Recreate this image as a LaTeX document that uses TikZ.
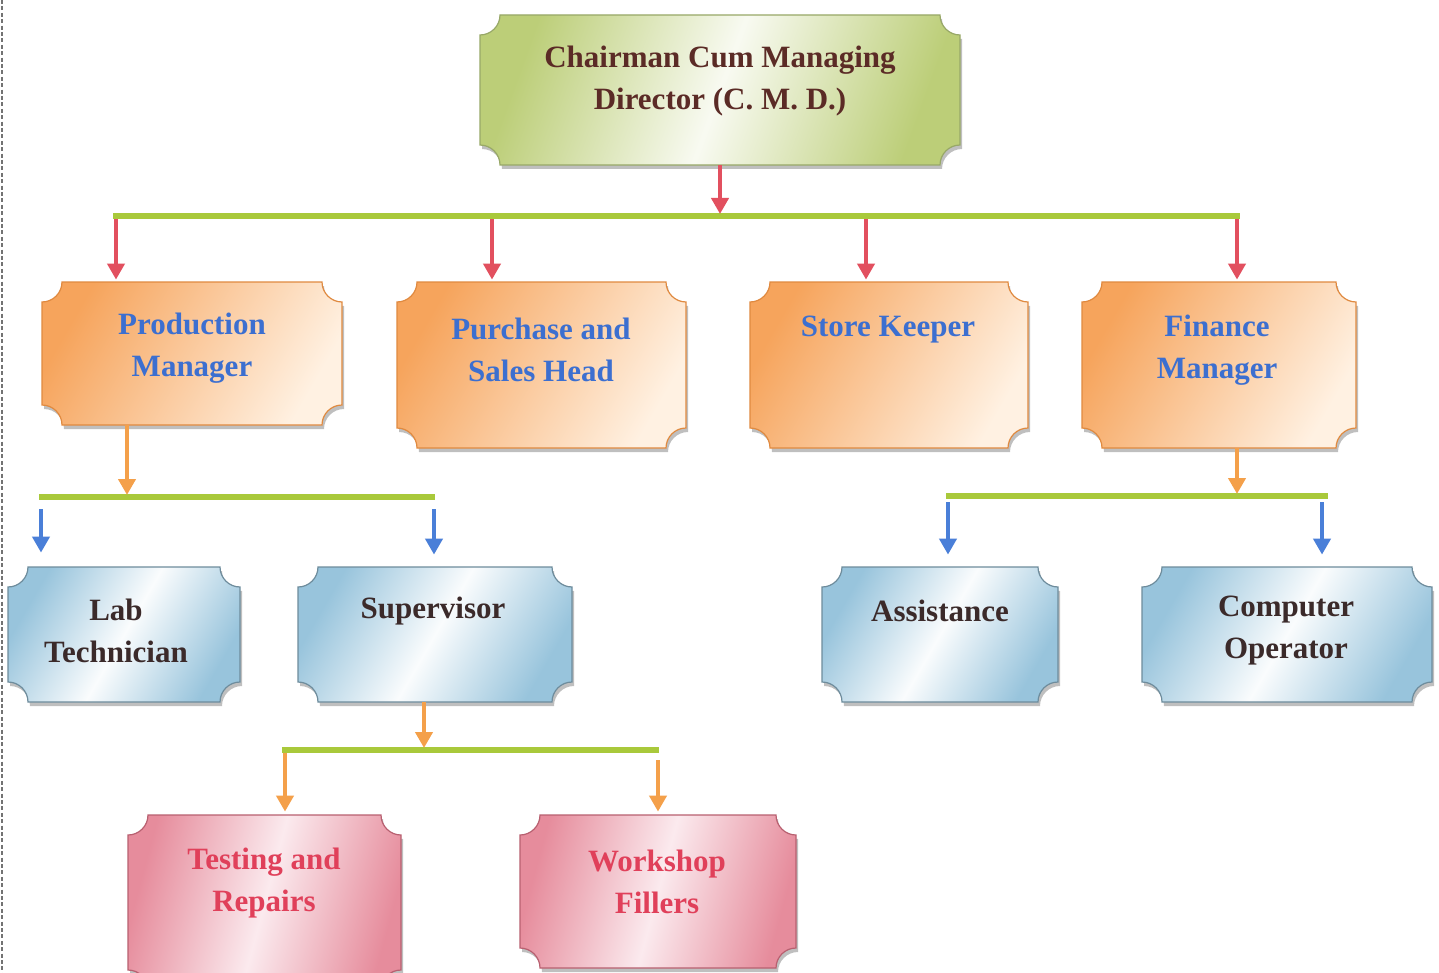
\documentclass[tikz,border=0pt]{standalone}
\usepackage{fontspec}
\setmainfont{Liberation Serif}
\usetikzlibrary{arrows.meta,calc}
\definecolor{barg}{HTML}{A9C93B}
\definecolor{redc}{HTML}{E2505F}
\definecolor{orac}{HTML}{F4A04A}
\definecolor{bluc}{HTML}{4A7FD8}
\definecolor{cmdg}{HTML}{BCCE78}
\definecolor{cmdline}{HTML}{98A868}
\definecolor{oraf}{HTML}{F6A45C}
\definecolor{oral}{HTML}{FFF1E2}
\definecolor{oraline}{HTML}{E08A40}
\definecolor{bluf}{HTML}{98C4DC}
\definecolor{blul}{HTML}{FAFCFD}
\definecolor{bluline}{HTML}{6E8C9C}
\definecolor{pinf}{HTML}{E68C9C}
\definecolor{pinl}{HTML}{FBEAEE}
\definecolor{pinline}{HTML}{B86070}
\definecolor{txbrown}{HTML}{5B2B26}
\definecolor{txblue}{HTML}{3C6FD0}
\definecolor{txdark}{HTML}{3B2A2A}
\definecolor{txpink}{HTML}{E0405A}
\tikzset{
  x=0.5pt, y=-0.5pt,
  bar/.style={line width=3pt, draw=barg},
  arr/.style={line width=2pt, -{Triangle[length=8pt,width=8.5pt]}},
  cmdbox/.style={draw=cmdline, line width=0.6pt, left color=cmdg, right color=cmdg, middle color=white!90!cmdg, shading angle=70},
  orabox/.style={draw=oraline, line width=0.6pt, left color=oraf, right color=oral, shading angle=60},
  blubox/.style={draw=bluline, line width=0.6pt, left color=bluf, right color=bluf, middle color=blul, shading angle=60},
  pinbox/.style={draw=pinline, line width=0.6pt, left color=pinf, right color=pinf, middle color=pinl, shading angle=75},
  txt/.style={font=\fontsize{15.5}{21}\selectfont\bfseries, align=center, inner sep=0pt},
}
\newcommand\plaquepath[4]{(#1+20,#2) -- (#3-20,#2) .. controls (#3-20,#2+11) and (#3-11,#2+20) .. (#3,#2+20) -- (#3,#4-20) .. controls (#3-11,#4-20) and (#3-20,#4-11) .. (#3-20,#4) -- (#1+20,#4) .. controls (#1+20,#4-11) and (#1+11,#4-20) .. (#1,#4-20) -- (#1,#2+20) .. controls (#1+11,#2+20) and (#1+20,#2+11) .. (#1+20,#2) -- cycle}
\newcommand\plaque[6]{%
  \begin{scope}[shift={(2,4)}]\fill[black!50,opacity=.5] \plaquepath{#3}{#4}{#5}{#6};\end{scope}
  \path[#2] \plaquepath{#3}{#4}{#5}{#6};
  \node[inner sep=0pt, minimum width={(#5-#3)*0.5pt}, minimum height={(#6-#4)*0.5pt}] (#1) at ({(#3+#5)/2},{(#4+#6)/2}) {};
}
\begin{document}
\begin{tikzpicture}
\useasboundingbox (0,0) rectangle (1439,973);
\fill[white] (0,0) rectangle (1439,973);
\draw[black!55, line width=1pt, dash pattern=on 2pt off 1.2pt] (2,0) -- (2,973);
% boxes
\plaque{cmd}{cmdbox}{480}{15}{960}{165}
\plaque{pm}{orabox}{42}{282}{342}{425}
\plaque{psh}{orabox}{397}{282}{686}{448}
\plaque{sk}{orabox}{750}{282}{1028}{448}
\plaque{fm}{orabox}{1082}{282}{1356}{448}
\plaque{lt}{blubox}{8}{567}{240}{702}
\plaque{sup}{blubox}{298}{567}{572}{702}
\plaque{asst}{blubox}{822}{567}{1058}{702}
\plaque{co}{blubox}{1142}{567}{1432}{702}
\plaque{tr}{pinbox}{128}{815}{401}{990}
\plaque{wf}{pinbox}{520}{815}{796}{968}
% texts
\node[txt, text=txbrown] (cmdt) at (720,81) {Chairman Cum Managing\\Director (C. M. D.)};
\node[txt, text=txblue] (pmt) at (192,348) {Production\\Manager};
\node[txt, text=txblue] (psht) at (541,350) {Purchase and\\Sales Head};
\node[txt, text=txblue] (skt) at (888,330) {Store Keeper};
\node[txt, text=txblue] (fmt) at (1217,350) {Finance\\Manager};
\node[txt, text=txdark] (ltt) at (116,631) {Lab\\Technician};
\node[txt, text=txdark] (supt) at (433,611) {Supervisor};
\node[txt, text=txdark] (asstt) at (940,611) {Assistance};
\node[txt, text=txdark] (cot) at (1286,631) {Computer\\Operator};
\node[txt, text=txpink] (trt) at (264,883) {Testing and\\Repairs};
\node[txt, text=txpink] (wft) at (657,882) {Workshop\\Fillers};
% level 1
\coordinate (b0l) at (113,216);
\coordinate (b0r) at (1240,216);
\coordinate (j0) at (720,216);
\coordinate (d1) at (116,216);
\coordinate (d2) at (492,216);
\coordinate (d3) at (866,216);
\coordinate (d4) at (1237,216);
\draw[bar] (b0l) -- (b0r);
\draw[arr, redc, shorten >=1pt] (cmd.south) -- (j0);
\draw[arr, redc, shorten <=1.5pt, shorten >=1pt] (d1) -- (d1 |- pm.north);
\draw[arr, redc, shorten <=1.5pt, shorten >=1pt] (d2) -- (d2 |- psh.north);
\draw[arr, redc, shorten <=1.5pt, shorten >=1pt] (d3) -- (d3 |- sk.north);
\draw[arr, redc, shorten <=1.5pt, shorten >=1pt] (d4) -- (d4 |- fm.north);
% production manager
\coordinate (b1l) at (39,497);
\coordinate (b1r) at (435,497);
\coordinate (j1) at (127,497);
\coordinate (e1) at (41,497);
\coordinate (e2) at (434,497);
\draw[bar] (b1l) -- (b1r);
\draw[arr, orac, shorten >=1pt] (j1 |- pm.south) -- (j1);
\draw[arr, bluc, shorten <=6pt, shorten >=7pt] (e1) -- (e1 |- lt.north);
\draw[arr, bluc, shorten <=6pt, shorten >=6pt] (e2) -- (e2 |- sup.north);
% finance manager
\coordinate (b2l) at (946,496);
\coordinate (b2r) at (1328,496);
\coordinate (j2) at (1237,496);
\coordinate (f1) at (948,496);
\coordinate (f2) at (1322,496);
\draw[bar] (b2l) -- (b2r);
\draw[arr, orac, shorten >=1pt] (j2 |- fm.south) -- (j2);
\draw[arr, bluc, shorten <=3pt, shorten >=6pt] (f1) -- (f1 |- asst.north);
\draw[arr, bluc, shorten <=3pt, shorten >=6pt] (f2) -- (f2 |- co.north);
% supervisor
\coordinate (b3l) at (282,750);
\coordinate (b3r) at (659,750);
\coordinate (j3) at (424,750);
\coordinate (g1) at (285,750);
\coordinate (g2) at (658,750);
\draw[bar] (b3l) -- (b3r);
\draw[arr, orac, shorten >=1pt] (j3 |- sup.south) -- (j3);
\draw[arr, orac, shorten <=1.5pt, shorten >=1.5pt] (g1) -- (g1 |- tr.north);
\draw[arr, orac, shorten <=5pt, shorten >=1.5pt] (g2) -- (g2 |- wf.north);
\end{tikzpicture}
\end{document}
